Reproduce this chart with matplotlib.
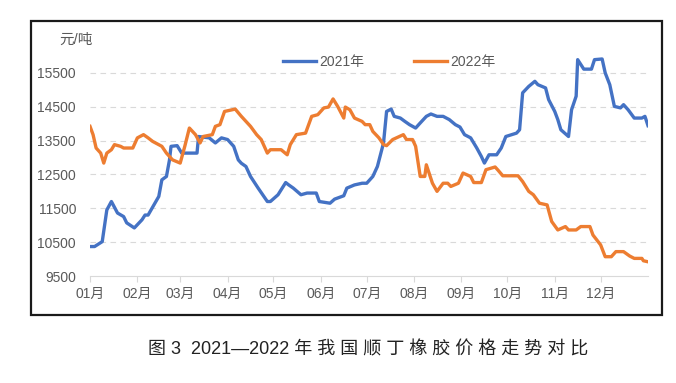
import matplotlib.pyplot as plt
from matplotlib.patches import Rectangle

plt.rcParams['font.family'] = ['Liberation Sans', 'Noto Sans CJK SC', 'DejaVu Sans']

# day of year -> price (元/吨)
day_2021 = [0, 3, 8, 11, 14, 18, 22, 24, 29, 34, 36, 38, 45, 47, 50, 52, 53, 57, 60, 70,
            71, 78, 82, 86, 90, 94, 97, 99, 102, 105, 110, 116, 118, 123, 128, 130, 133, 138,
            142, 148, 150, 157, 160, 166, 168, 173, 178, 181, 183, 185, 188, 192, 194, 197,
            199, 203, 206, 209, 213, 216, 220, 223, 227, 231, 235, 239, 242, 245, 249, 253,
            256, 258, 261, 266, 269, 272, 279, 281, 283, 287, 291, 293, 298, 300, 304, 306,
            308, 313, 315, 318, 319, 323, 328, 330, 335, 337, 340, 343, 347, 349, 352, 356,
            361, 363, 365]
price_2021 = [10370, 10370, 10515, 11450, 11700, 11360, 11255, 11070, 10920, 11160, 11300,
              11300, 11850, 12340, 12440, 12930, 13330, 13350, 13130, 13130, 13620, 13580,
              13430, 13580, 13530, 13330, 12930, 12830, 12735, 12440, 12095, 11700, 11700,
              11900, 12260, 12190, 12095, 11900, 11950, 11950, 11700, 11650, 11770, 11870,
              12095, 12190, 12240, 12240, 12340, 12440, 12735, 13430, 14360, 14430, 14215,
              14165, 14065, 13970, 13870, 14020, 14215, 14285, 14215, 14215, 14120, 13970,
              13900, 13675, 13580, 13280, 13030, 12835, 13080, 13080, 13280, 13620, 13720,
              13820, 14910, 15100, 15250, 15150, 15055, 14710, 14360, 14120, 13820, 13620,
              14410, 14810, 15890, 15610, 15610, 15890, 15910, 15500, 15150, 14510, 14465,
              14560, 14410, 14165, 14165, 14215, 13940]

day_2022 = [0, 2, 4, 7, 9, 11, 14, 16, 20, 22, 28, 31, 35, 38, 41, 47, 50, 54, 59, 62, 65,
            69, 72, 74, 80, 82, 85, 88, 95, 99, 105, 109, 112, 116, 118, 125, 129, 131, 135,
            141, 145, 149, 153, 156, 159, 162, 166, 167, 170, 173, 178, 180, 183, 185, 189,
            192, 194, 198, 205, 207, 211, 213, 216, 219, 220, 224, 227, 231, 234, 236, 241,
            244, 249, 251, 256, 259, 265, 267, 270, 280, 283, 287, 290, 294, 299, 302, 306,
            311, 313, 318, 321, 327, 329, 334, 337, 341, 344, 349, 353, 356, 361, 362, 365]
price_2022 = [13920, 13675, 13280, 13130, 12835, 13130, 13230, 13380, 13330, 13280, 13280,
              13580, 13675, 13580, 13475, 13330, 13130, 12930, 12835, 13330, 13870, 13675,
              13430, 13620, 13675, 13920, 13970, 14360, 14430, 14215, 13920, 13675, 13530,
              13130, 13230, 13230, 13080, 13380, 13675, 13720, 14215, 14265, 14465, 14490,
              14730, 14510, 14165, 14490, 14410, 14165, 14065, 13970, 13970, 13770, 13580,
              13380, 13350, 13530, 13675, 13530, 13530, 13330, 12440, 12440, 12785, 12240,
              12000, 12240, 12240, 12145, 12240, 12540, 12440, 12260, 12260, 12640, 12720,
              12620, 12460, 12460, 12290, 12000, 11900, 11650, 11600, 11110, 10860, 10960,
              10860, 10860, 10960, 10960, 10710, 10420, 10070, 10070, 10220, 10220, 10090,
              10020, 10020, 9950, 9920]

month_start = [0, 31, 59, 90, 120, 151, 181, 212, 243, 273, 304, 334]
month_labels = ['01月', '02月', '03月', '04月', '05月', '06月',
                '07月', '08月', '09月', '10月', '11月', '12月']
y_ticks = [9500, 10500, 11500, 12500, 13500, 14500, 15500]

W, H = 676, 383
fig = plt.figure(figsize=(W / 100, H / 100), dpi=100)
ax = fig.add_axes([90 / W, 1 - 276 / H, 558 / W, 237 / H])

ax.plot(day_2021, price_2021, color='#4472C4', lw=2.4, label='2021年', solid_joinstyle='round')
ax.plot(day_2022, price_2022, color='#ED7D31', lw=2.4, label='2022年', solid_joinstyle='round')

ax.set_xlim(0, 365)
ax.set_ylim(9500, 16500)
ax.set_yticks(y_ticks)
ax.set_xticks(month_start)
ax.set_xticklabels(month_labels)
for y in y_ticks[1:]:
    ax.axhline(y, color='#D9D9D9', lw=0.8, ls=(0, (5, 4)), zorder=0)

for s in ['top', 'right', 'left']:
    ax.spines[s].set_visible(False)
ax.spines['bottom'].set_color('#D9D9D9')
ax.tick_params(axis='y', length=0, labelsize=10, labelcolor='#595959', pad=10)
ax.tick_params(axis='x', length=4, color='#D9D9D9', labelsize=10, labelcolor='#595959', pad=4)

leg = ax.legend(loc='center', bbox_to_anchor=(389 / W, 1 - 62 / H), bbox_transform=fig.transFigure,
                ncol=2, frameon=False, fontsize=10, handlelength=2.4, handletextpad=0.2,
                columnspacing=3.6)
for t in leg.get_texts():
    t.set_color('#595959')

fig.text(76 / W, 1 - 40 / H, '元/吨', ha='center', va='center', fontsize=10.5, color='#595959')

# outer frame
fig.patches.append(Rectangle((31 / W, 1 - 315 / H), 631 / W, 294 / H, transform=fig.transFigure,
                             fill=False, ec='#1a1a1a', lw=1.6))

fig.text(368 / W, 1 - 350 / H, '图 3  2021—2022 年 我 国 顺 丁 橡 胶 价 格 走 势 对 比',
         ha='center', va='center', fontsize=13, color='#222222')

fig.savefig('out.png', dpi=100)
